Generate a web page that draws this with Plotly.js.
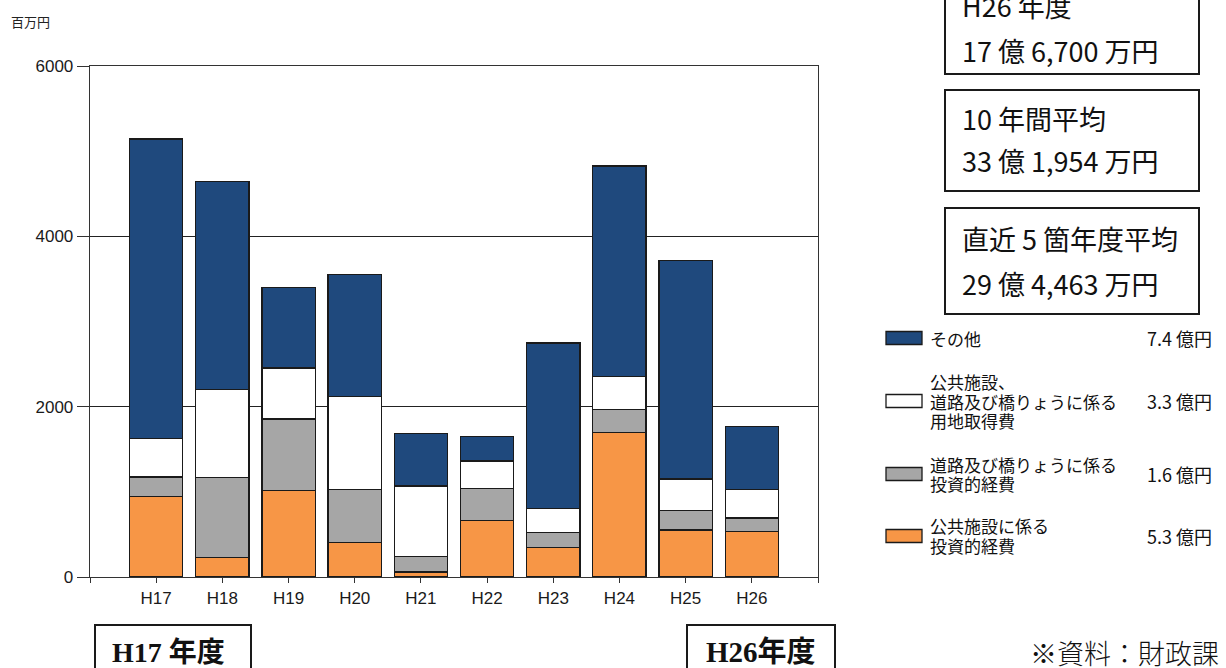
<!DOCTYPE html>
<html>
<head>
<meta charset="utf-8">
<script src="https://cdn.plot.ly/plotly-3.0.1.min.js"></script>
<style>html,body{margin:0;padding:0;background:#fff;}#chart{width:1226px;height:668px;}</style>
</head>
<body>
<div id="chart"></div>
<script>
// ---- data (百万円) ----
const categories = ["H17","H18","H19","H20","H21","H22","H23","H24","H25","H26"];
const publicFacility = [949, 233, 1016, 409, 58, 661, 346, 1693, 552, 534];   // 公共施設に係る投資的経費
const roadBridge     = [226, 938, 840, 622, 179, 382, 175, 272, 226, 160];    // 道路及び橋りょうに係る投資的経費
const landAcq        = [455, 1031, 599, 1089, 833, 318, 285, 393, 373, 333]; // 用地取得費
const others         = [3514, 2445, 943, 1433, 611, 289, 1941, 2468, 2562, 740]; // その他
const seriesNames = ["公共施設に係る投資的経費", "道路及び橋りょうに係る投資的経費", "公共施設、道路及び橋りょうに係る用地取得費", "その他"];
const legendLabels = [
  ["その他"],
  ["公共施設、", "道路及び橋りょうに係る", "用地取得費"],
  ["道路及び橋りょうに係る", "投資的経費"],
  ["公共施設に係る", "投資的経費"]
];
const legendValues = ["7.4 億円", "3.3 億円", "1.6 億円", "5.3 億円"];
const boxTexts = [
  ["H26 年度", "17 億 6,700 万円"],
  ["10 年間平均", "33 億 1,954 万円"],
  ["直近 5 箇年度平均", "29 億 4,463 万円"]
];
const yTickVals = [0, 2000, 4000, 6000];

// ---- styling ----
const colors = ["#F79646", "#A6A6A6", "#FFFFFF", "#1F497D"];
const legendColors = ["#1F497D", "#FFFFFF", "#A6A6A6", "#F79646"];
const W = 1226, H = 668;
const L = 90, R = 818, T = 66, B = 577;
const px = x => (x - L) / (R - L);
const py = y => (B - y) / (B - T);
const cjk = '"Noto Sans CJK JP", "Noto Sans", sans-serif';
const sans = '"Liberation Sans", Arial, sans-serif';

const xIdx = categories.map((c, i) => i);
const seriesVals = [publicFacility, roadBridge, landAcq, others];
const traces = seriesVals.map((vals, k) => ({
  type: 'bar',
  name: seriesNames[k],
  x: xIdx,
  y: vals,
  width: 0.805,
  marker: {color: colors[k], line: {color: '#1a1a1a', width: 1.3}},
  hoverinfo: 'x+y+name',
  showlegend: false
}));

const shapes = [];
const annotations = [];

// y-axis unit
annotations.push({xref:'paper', yref:'paper', x:px(9), y:py(21), xanchor:'left', yanchor:'middle',
  text:'百万円', showarrow:false, font:{family:cjk, size:13, color:'#222'}});

// right info boxes
const boxes = [[-40, 74, 5, 50], [90, 191, 118, 160], [208, 314, 238, 283]];
boxes.forEach((b, i) => {
  shapes.push({type:'rect', xref:'paper', yref:'paper', x0:px(945), x1:px(1199), y0:py(b[0]), y1:py(b[1]),
    line:{color:'#1a1a1a', width:2}, fillcolor:'rgba(0,0,0,0)'});
  annotations.push({xref:'paper', yref:'paper', x:px(960), y:py(b[2]), xanchor:'left', yanchor:'middle',
    text:boxTexts[i][0], showarrow:false, font:{family:cjk, size:27, color:'#111'}});
  annotations.push({xref:'paper', yref:'paper', x:px(960), y:py(b[3]), xanchor:'left', yanchor:'middle',
    text:boxTexts[i][1], showarrow:false, font:{family:cjk, size:27, color:'#111'}});
});

// custom legend
const legendRows = [
  {sw:338, lines:[338], val:338},
  {sw:401, lines:[381, 401, 420], val:401},
  {sw:474, lines:[464, 483], val:474},
  {sw:536, lines:[525, 545], val:536}
];
legendRows.forEach((r, i) => {
  shapes.push({type:'rect', xref:'paper', yref:'paper', x0:px(886), x1:px(922), y0:py(r.sw - 6.5), y1:py(r.sw + 6.5),
    line:{color:'#1a1a1a', width:1.3}, fillcolor:legendColors[i]});
  legendLabels[i].forEach((t, j) => {
    annotations.push({xref:'paper', yref:'paper', x:px(928), y:py(r.lines[j]), xanchor:'left', yanchor:'middle',
      text:t, showarrow:false, height:19, font:{family:cjk, size:17, color:'#111'}});
  });
  annotations.push({xref:'paper', yref:'paper', x:px(1214), y:py(r.val), xanchor:'right', yanchor:'middle',
    text:legendValues[i], showarrow:false, font:{family:cjk, size:18, color:'#111'}});
});

// bottom boxes
shapes.push({type:'rect', xref:'paper', yref:'paper', x0:px(95), x1:px(251), y0:py(625), y1:py(720),
  line:{color:'#1a1a1a', width:2}, fillcolor:'rgba(0,0,0,0)'});
shapes.push({type:'rect', xref:'paper', yref:'paper', x0:px(687), x1:px(835), y0:py(625), y1:py(720),
  line:{color:'#1a1a1a', width:2}, fillcolor:'rgba(0,0,0,0)'});
annotations.push({xref:'paper', yref:'paper', x:px(168), y:py(652), xanchor:'center', yanchor:'middle',
  text:'<b>H17 年度</b>', showarrow:false, font:{family:'"Liberation Serif", "Noto Sans CJK JP", serif', size:28, color:'#111'}});
annotations.push({xref:'paper', yref:'paper', x:px(761), y:py(652), xanchor:'center', yanchor:'middle',
  text:'<b>H26年度</b>', showarrow:false, font:{family:'"Liberation Serif", "Noto Sans CJK JP", serif', size:29, color:'#111'}});
annotations.push({xref:'paper', yref:'paper', x:px(1221), y:py(652), xanchor:'right', yanchor:'middle',
  text:'※資料：財政課', showarrow:false, font:{family:cjk, size:27, color:'#111', weight:300}});

const tickVals = [-1].concat(xIdx).concat([categories.length]);
const tickText = [''].concat(categories).concat(['']);

const layout = {
  width: W, height: H,
  margin: {l: L, r: W - R, t: T, b: H - B, pad: 0},
  paper_bgcolor: '#fff', plot_bgcolor: '#fff',
  barmode: 'stack',
  showlegend: false,
  xaxis: {
    range: [-1, categories.length],
    tickmode: 'array', tickvals: tickVals, ticktext: tickText,
    ticks: 'outside', ticklen: 5, tickcolor: '#333', tickwidth: 1,
    showline: true, linecolor: '#333', linewidth: 1.3, mirror: true,
    showgrid: false, zeroline: false,
    tickfont: {family: sans, size: 17, color: '#1a1a1a'},
    fixedrange: true
  },
  yaxis: {
    range: [0, 6000],
    tickmode: 'array', tickvals: yTickVals,
    ticks: 'outside', ticklen: 12, tickcolor: '#333', tickwidth: 1,
    showline: true, linecolor: '#333', linewidth: 1.3, mirror: true,
    showgrid: true, gridcolor: '#222', gridwidth: 1,
    zeroline: false,
    tickfont: {family: sans, size: 17, color: '#1a1a1a'},
    fixedrange: true
  },
  shapes: shapes,
  annotations: annotations
};

Plotly.newPlot('chart', traces, layout, {displayModeBar: false, staticPlot: true});
</script>
</body>
</html>
